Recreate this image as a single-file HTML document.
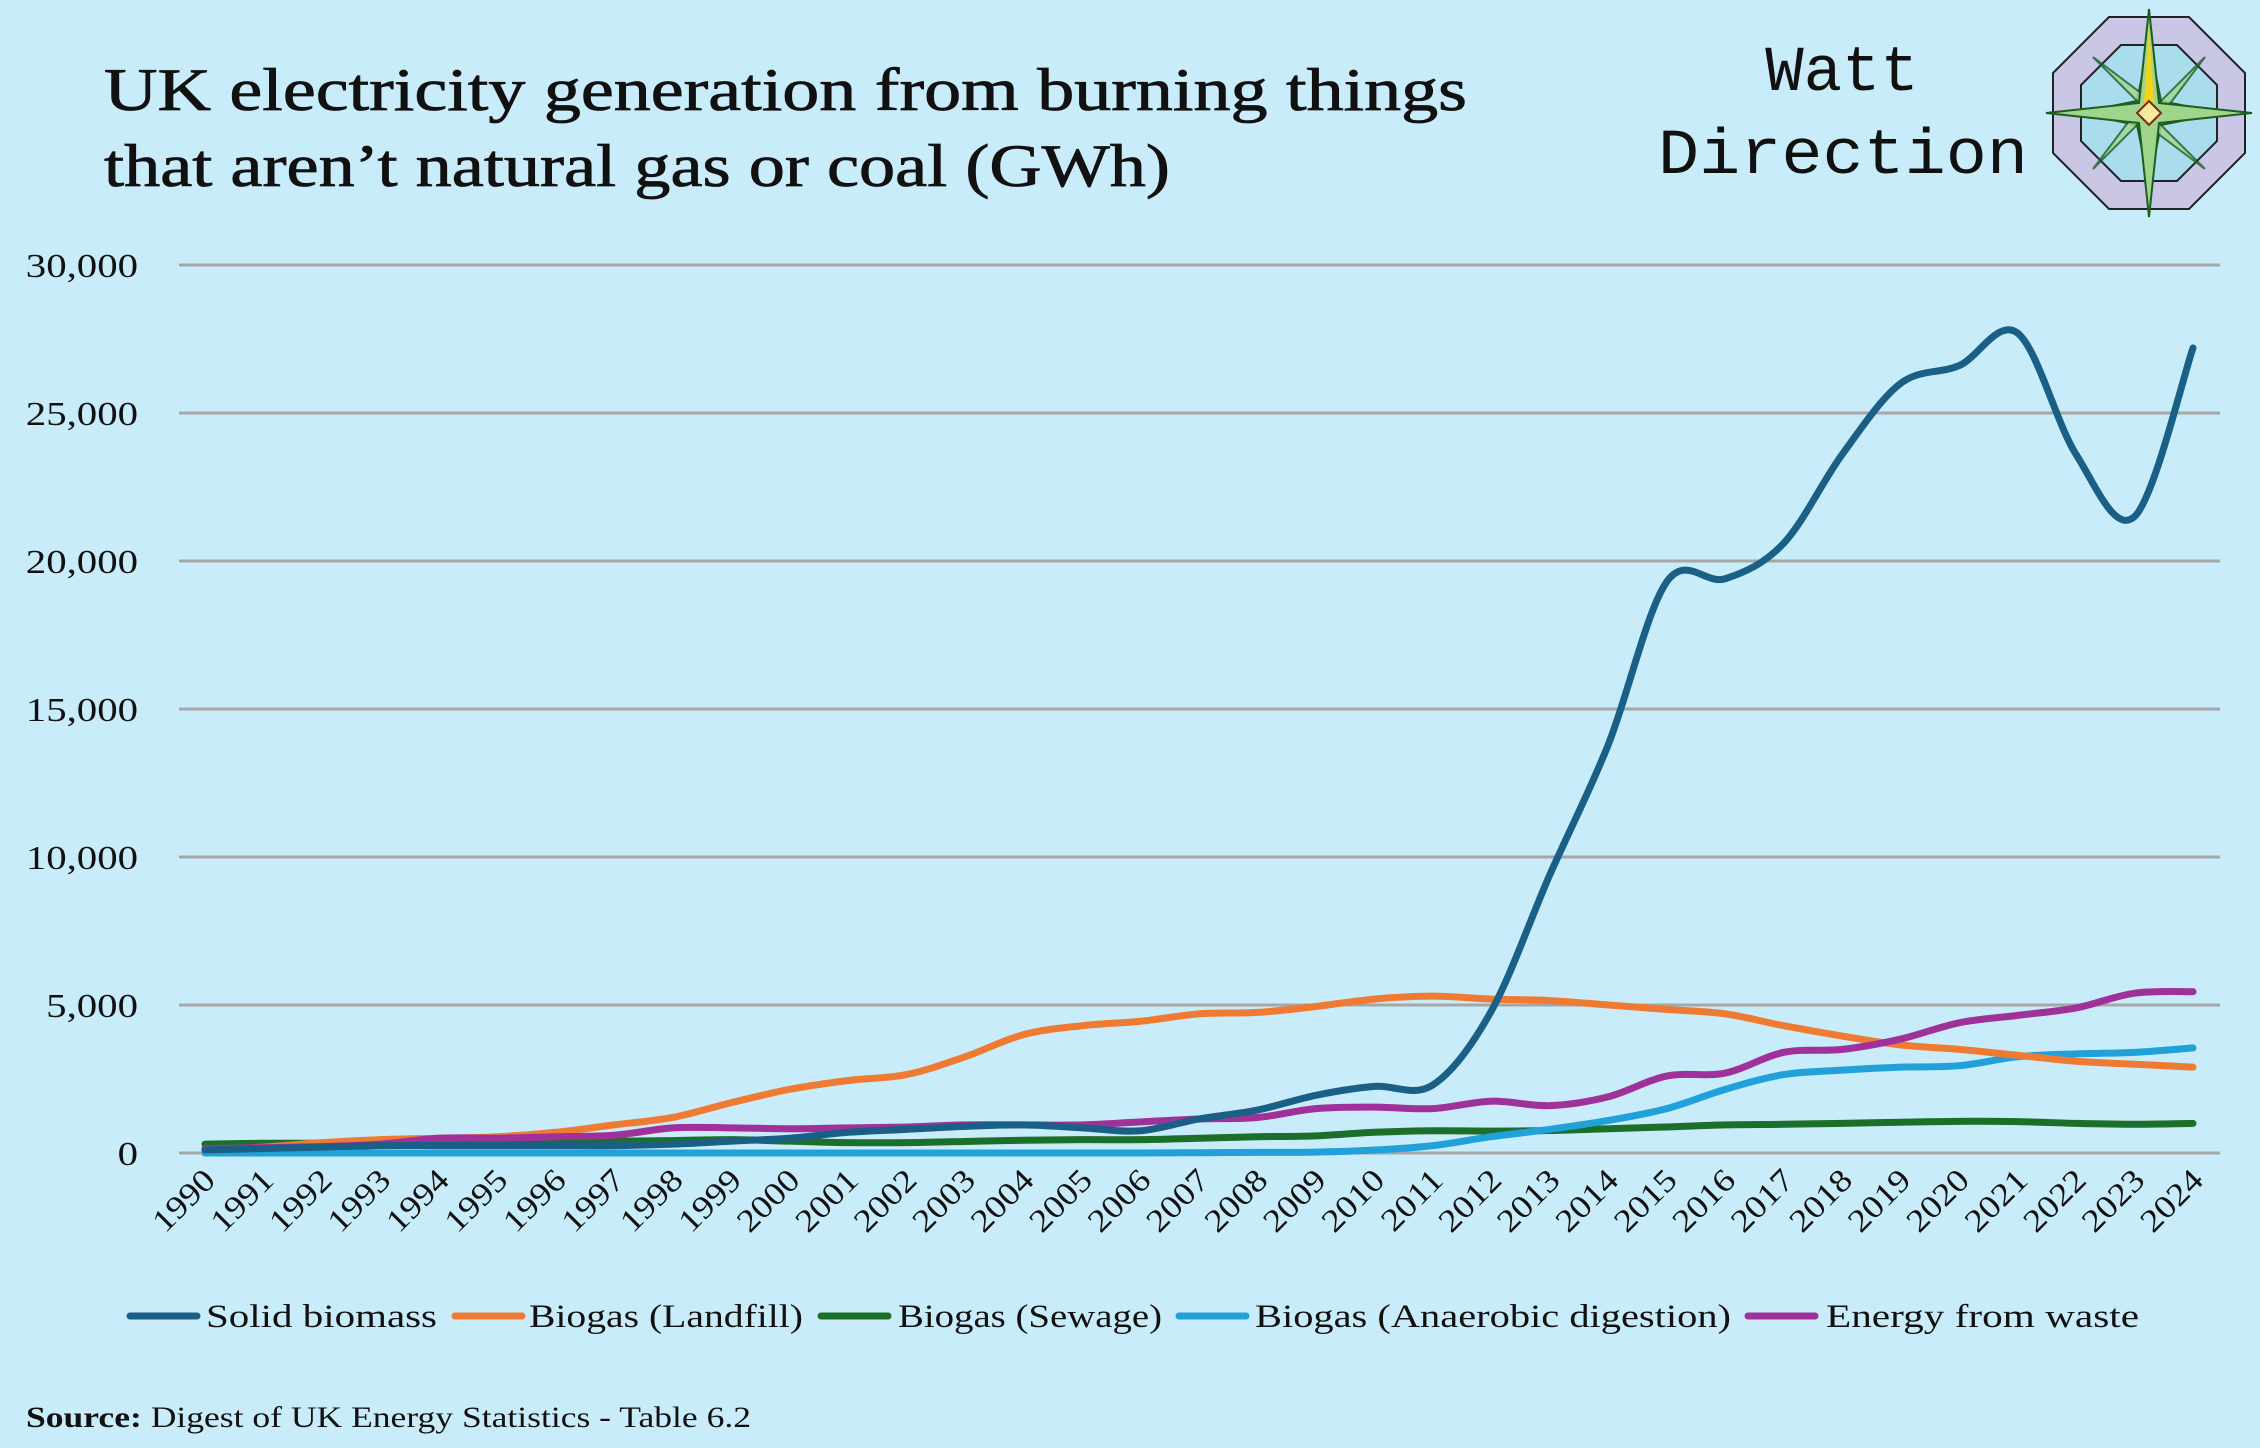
<!DOCTYPE html>
<html><head><meta charset="utf-8"><style>
html,body{margin:0;padding:0;background:#c9ecfa;}
svg{display:block;}
</style></head><body>
<svg id="chart" width="2260" height="1448" viewBox="0 0 2260 1448" xmlns="http://www.w3.org/2000/svg">
<rect width="2260" height="1448" fill="#c9ecfa"/>
<text x="104" y="110" font-family="Liberation Serif, serif" font-size="60" fill="#111" stroke="#111" stroke-width="0.8" textLength="1363" lengthAdjust="spacingAndGlyphs">UK electricity generation from burning things</text>
<text x="104" y="186" font-family="Liberation Serif, serif" font-size="60" fill="#111" stroke="#111" stroke-width="0.8" textLength="1066" lengthAdjust="spacingAndGlyphs">that aren’t natural gas or coal (GWh)</text>
<text x="1842" y="90" text-anchor="middle" font-family="Liberation Mono, monospace" font-size="64" fill="#111">Watt</text>
<text x="1843" y="173" text-anchor="middle" font-family="Liberation Mono, monospace" font-size="64" fill="#111" textLength="370" lengthAdjust="spacingAndGlyphs">Direction</text>
<g transform="translate(2149,113)">
<polygon points="-40,-96 40,-96 96,-40 96,40 40,96 -40,96 -96,40 -96,-40" fill="#c9c6e6" stroke="#222" stroke-width="2"/>
<polygon points="-28,-68 28,-68 68,-28 68,28 28,68 -28,68 -68,28 -68,-28" fill="#a9dced" stroke="#222" stroke-width="2"/>
<polygon points="0,-72 12,-12 72,0 12,12 0,72 -12,12 -72,0 -12,-12" fill="#b9e0a8" stroke="#1b5e20" stroke-width="2"/>
<polygon points="-56,-56 8,-8 56,-56 8,8 56,56 -8,8 -56,56 -8,-8" fill="#a6d590" stroke="#1b5e20" stroke-width="2" opacity="0.8"/>
<polygon points="0,-104 10,-10 103,0 10,10 0,104 -10,10 -103,0 -10,-10" fill="#9fd58a" stroke="#1b5e20" stroke-width="2"/>
<polygon points="0,-88 5,-10 0,0 -5,-10" fill="#f2d21b"/>
<polygon points="0,-12 12,0 0,12 -12,0" fill="#f7eba0" stroke="#7a2a0e" stroke-width="2"/>
</g>
<g id="grid"></g>
<g id="ylabels"></g>
<g id="xlabels"></g>
<g id="lines"></g>
<g id="legend"></g>
<text x="26" y="1427" font-family="Liberation Serif, serif" font-size="30" fill="#111" textLength="725" lengthAdjust="spacingAndGlyphs"><tspan font-weight="bold">Source:</tspan> Digest of UK Energy Statistics - Table 6.2</text>
</svg>
<script>
const years = [1990,1991,1992,1993,1994,1995,1996,1997,1998,1999,2000,2001,2002,2003,2004,2005,2006,2007,2008,2009,2010,2011,2012,2013,2014,2015,2016,2017,2018,2019,2020,2021,2022,2023,2024];
const solidBiomass = [100,150,200,250,250,250,250,250,300,400,500,700,800,900,950,850,750,1150,1450,1950,2250,2300,4800,9400,13800,19300,19400,20600,23600,26000,26600,27700,23600,21500,27200];
const landfill = [100,200,350,450,500,550,700,950,1200,1700,2150,2450,2650,3250,4000,4300,4450,4700,4750,4950,5200,5300,5200,5150,5000,4850,4700,4300,3950,3650,3500,3300,3100,3000,2900];
const sewage = [300,330,330,370,400,400,400,400,420,450,400,350,350,390,430,450,450,500,550,580,700,750,740,760,820,880,950,970,1000,1040,1070,1060,1000,970,1000];
const anaerobic = [0,0,0,0,0,0,0,0,0,0,0,0,0,0,0,0,0,10,20,30,100,250,550,800,1100,1500,2150,2650,2800,2900,2950,3250,3350,3400,3550];
const wasteEnergy = [150,180,220,300,500,500,550,600,850,850,820,850,880,950,950,950,1050,1150,1200,1500,1550,1500,1750,1600,1900,2600,2700,3400,3500,3850,4400,4650,4900,5400,5450];
const yTicks = [0,5000,10000,15000,20000,25000,30000];
const seriesNames = ["Solid biomass","Biogas (Landfill)","Biogas (Sewage)","Biogas (Anaerobic digestion)","Energy from waste"];

const NS="http://www.w3.org/2000/svg";
const X0=205,X1=2193,Y0=1153,Y1=265,YMAX=30000;
function xs(i){return X0+(X1-X0)*i/(years.length-1);}
function ys(v){return Y0-(Y0-Y1)*v/YMAX;}
function mk(tag,attrs,parent){const e=document.createElementNS(NS,tag);for(const k in attrs)e.setAttribute(k,attrs[k]);parent.appendChild(e);return e;}
function stretch(t,f){const w=t.getComputedTextLength();t.setAttribute('textLength',w*f);t.setAttribute('lengthAdjust','spacingAndGlyphs');}

const grid=document.getElementById('grid'),yl=document.getElementById('ylabels'),xl=document.getElementById('xlabels'),lines=document.getElementById('lines'),leg=document.getElementById('legend');
yTicks.forEach(t=>{
  const l=mk('line',{x1:179,x2:2220,y1:ys(t),y2:ys(t),stroke:'#a6a6a6','stroke-width':3},grid);
  
  
  const tx=mk('text',{x:138,y:ys(t)+12,'text-anchor':'end','font-family':'Liberation Serif, serif','font-size':34,fill:'#111'},yl);
  tx.textContent=t.toLocaleString('en-US');
  
  
  stretch(tx,1.2);
});
years.forEach((y,i)=>{
  const x=xs(i)+12,yy=1182;
  const tx=mk('text',{x:x,y:yy,'text-anchor':'end','font-family':'Liberation Serif, serif','font-size':32,fill:'#111',transform:`rotate(-45 ${x} ${yy})`},xl);
  tx.textContent=y;
  
  
  stretch(tx,1.15);
});
function pathFor(vals){
  const p=vals.map((v,i)=>[xs(i),ys(v)]);
  let d=`M${p[0][0]},${p[0][1]}`;
  for(let i=0;i<p.length-1;i++){
    const p0=p[i-1]||p[i],p1=p[i],p2=p[i+1],p3=p[i+2]||p[i+1];
    const c1=[p1[0]+(p2[0]-p0[0])/6,p1[1]+(p2[1]-p0[1])/6];
    const c2=[p2[0]-(p3[0]-p1[0])/6,p2[1]-(p3[1]-p1[1])/6];
    d+=` C${c1[0]},${c1[1]} ${c2[0]},${c2[1]} ${p2[0]},${p2[1]}`;
  }
  return d;
}
const colors=['#1a5f86','#ef7b33','#1c6f28','#20a1d9','#a0319a'];
const data=[solidBiomass,landfill,sewage,anaerobic,wasteEnergy];
const order=[2,3,1,4,0];
const names=['line-solid-biomass','line-biogas-landfill','line-biogas-sewage','line-biogas-anaerobic-digestion','line-energy-from-waste'];
order.forEach(k=>{
  const pth=mk('path',{d:pathFor(data[k]),fill:'none',stroke:colors[k],'stroke-width':7,'stroke-linejoin':'round','stroke-linecap':'round'},lines);
  
  
});
const legX=[[130,206,231],[455,529,274],[821,898,264],[1179,1255,476],[1748,1826,313]];
seriesNames.forEach((n,k)=>{
  const g=mk('g',{},leg);
  
  
  mk('line',{x1:legX[k][0],x2:legX[k][0]+67,y1:1316,y2:1316,stroke:colors[k],'stroke-width':7,'stroke-linecap':'round'},g);
  const t=mk('text',{x:legX[k][1],y:1327,'font-family':'Liberation Serif, serif','font-size':33,fill:'#111',textLength:legX[k][2],lengthAdjust:'spacingAndGlyphs'},g);
  t.textContent=n;
});
</script>
</body></html>
